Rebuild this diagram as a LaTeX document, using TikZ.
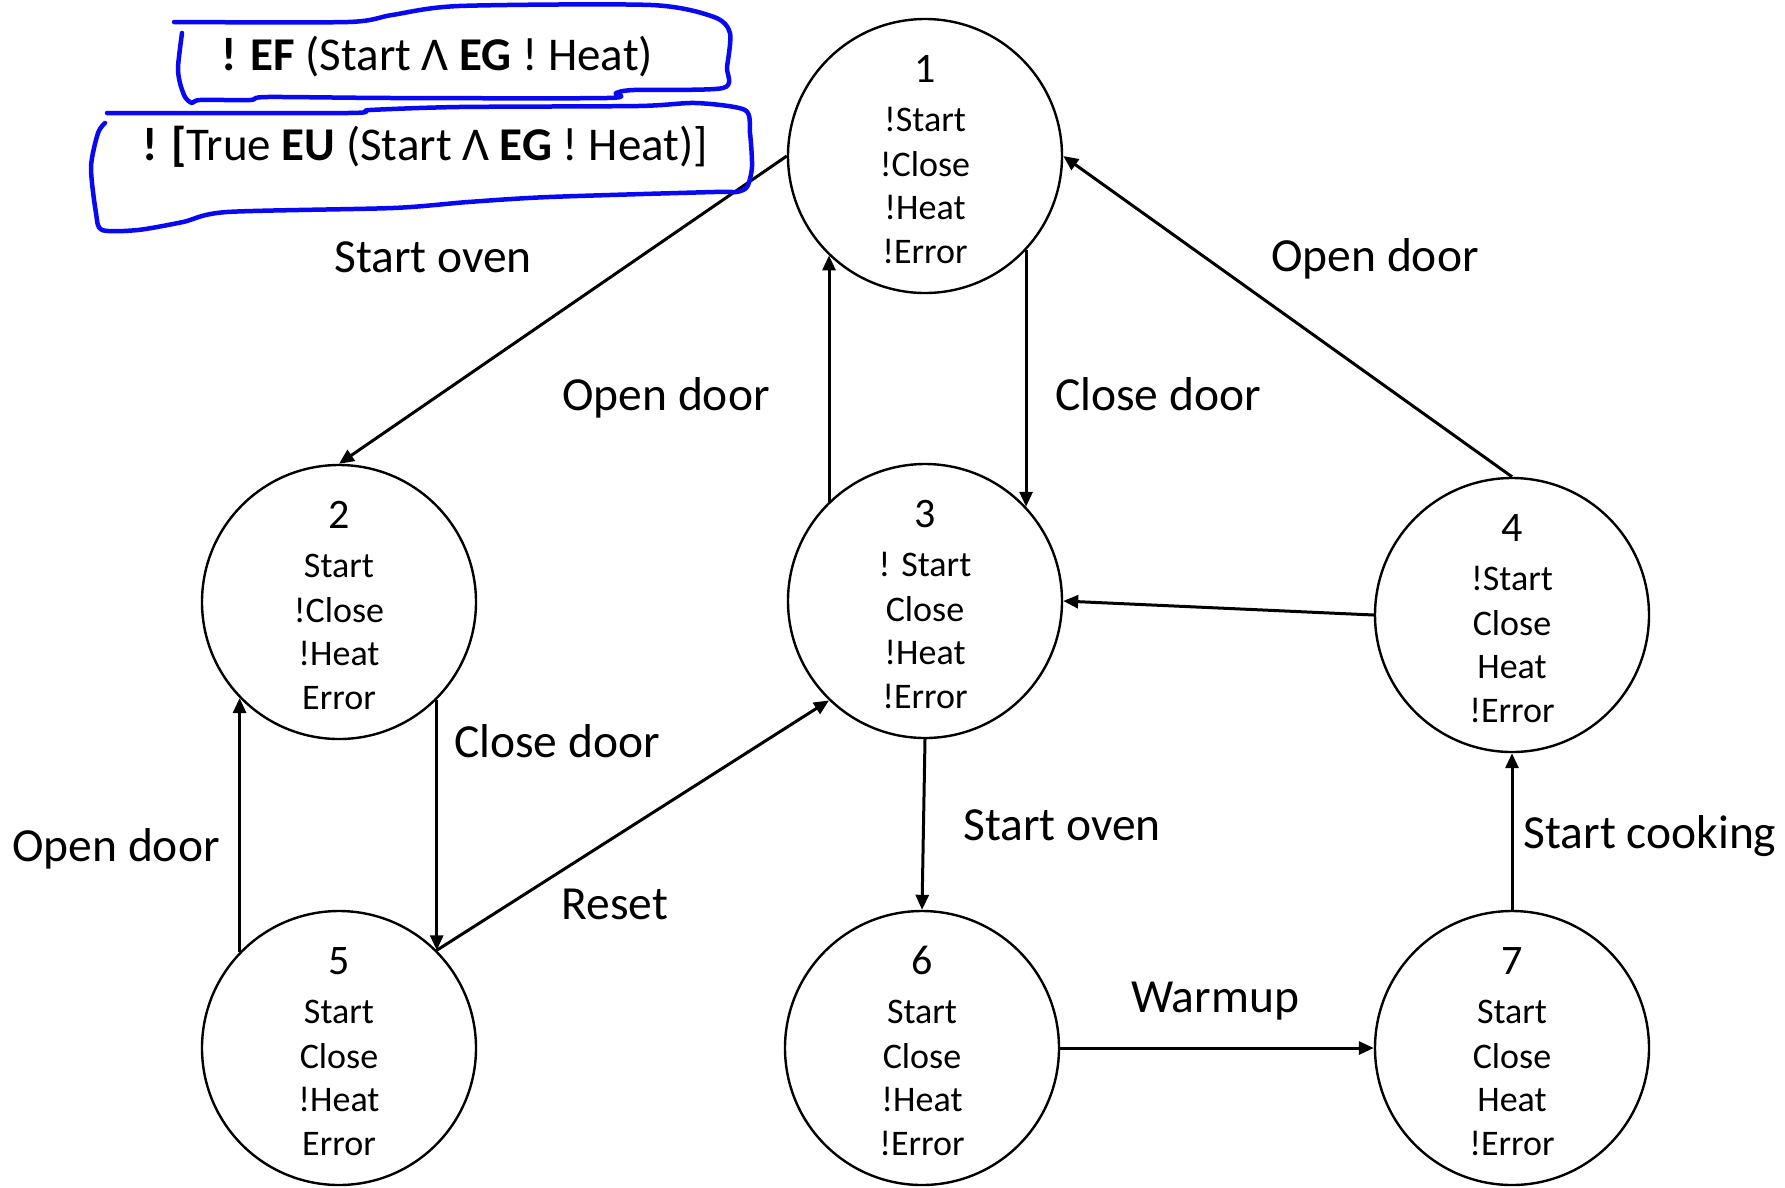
\documentclass[tikz,border=0pt]{standalone}
\usepackage{fontspec}
\setmainfont{Carlito}
\usetikzlibrary{arrows.meta}
\definecolor{penblue}{RGB}{8,8,245}

% state circle with its number and four labelled propositions
\newcommand\mkstate[8]{%
  \node[statecirc] (#1) at (#2,#3) {};
  \node[numtext]  at (#2,#3-74) {#4};
  \node[proptext] at (#2,#3-25) {#5};
  \node[proptext] at (#2,#3+20) {#6};
  \node[proptext] at (#2,#3+63) {#7};
  \node[proptext] at (#2,#3+107) {#8};
}

\begin{document}
\begin{tikzpicture}[x=1pt,y=-1pt,
  statecirc/.style={circle,draw,line width=2.4pt,minimum size=274pt,inner sep=0pt},
  numtext/.style={anchor=base,inner sep=0pt,font=\fontsize{42}{50}\selectfont},
  proptext/.style={anchor=base,inner sep=0pt,font=\fontsize{36}{42}\selectfont},
  edgelabel/.style={anchor=base,inner sep=0pt,font=\fontsize{47.5}{56}\selectfont},
  trans/.style={line width=3pt,-{Triangle[length=15pt,width=13pt]}},
  formula/.style={anchor=base,inner sep=0pt,font=\fontsize{47}{56}\selectfont},
  pen/.style={draw=penblue,line width=4.5pt,line cap=round,line join=round}
]
\fill[white] (0,0) rectangle (1785,1187);
\useasboundingbox (0,0) rectangle (1785,1187);

% states
\mkstate{n1}{925}{156}{1}{!Start}{!Close}{!Heat}{!Error}
\mkstate{n2}{339}{602}{2}{Start}{!Close}{!Heat}{Error}
\mkstate{n3}{925}{601}{3}{! Start}{Close}{!Heat}{!Error}
\mkstate{n4}{1512}{615}{4}{!Start}{Close}{Heat}{!Error}
\mkstate{n5}{339}{1048}{5}{Start}{Close}{!Heat}{Error}
\mkstate{n6}{922}{1048}{6}{Start}{Close}{!Heat}{!Error}
\mkstate{n7}{1512}{1048}{7}{Start}{Close}{Heat}{!Error}

% transitions
\draw[trans] (n1.west) -- (n2.north);
\draw[trans] (n1.-43) -- (n3.43);
\draw[trans] (n3.134) -- (n1.226);
\draw[trans] (n4.north) -- (n1.east);
\draw[trans] (n4.west) -- (n3.east);
\draw[trans] (n2.-45) -- (n5.45);
\draw[trans] (n5.136) -- (n2.224);
\draw[trans] (n5.45) -- (n3.226);
\draw[trans] (n3.south) -- (n6.north);
\draw[trans] (n6.east) -- (n7.west);
\draw[trans] (n7.north) -- (n4.south);

% transition labels
\node[edgelabel] (l12) at (433,272) {Start oven};
\node[edgelabel] (l31) at (666,410) {Open door};
\node[edgelabel] (l13) at (1158,410) {Close door};
\node[edgelabel] (l41) at (1375,271) {Open door};
\node[edgelabel] (l25) at (557,757) {Close door};
\node[edgelabel] (l52) at (116,861) {Open door};
\node[edgelabel] (l53) at (615,919) {Reset};
\node[edgelabel] (l36) at (1062,840) {Start oven};
\node[edgelabel] (l67) at (1215,1012) {Warmup};
\node[edgelabel] (l74) at (1650,848) {Start cooking};

% CTL formulas
\node[formula] (f1) at (437,70) {\textbf{! EF} (Start Λ \textbf{EG} ! Heat)};
\node[formula] (f2) at (425,160) {\textbf{! [}True \textbf{EU} (Start Λ \textbf{EG} ! Heat)]};

% hand-drawn outlines
\draw[pen] plot[smooth,tension=0.45] coordinates {
  (182,33) (178,67) (180,83) (185,97) (192,103) (200,100) (250,100) (267,97)
  (392,98) (607,98) (616,93) (634,90) (723,88) (727,67) (730,33) (714,17)
  (651,5) (459,6) (392,15) (348,22) (174,22)};
\draw[pen] plot[smooth,tension=0.45] coordinates {
  (105,123) (98,133) (91,167) (96,213) (102,230) (138,230) (183,222) (227,212)
  (393,208) (468,202) (549,197) (714,192) (736,192) (747,187) (752,167)
  (750,133) (745,110) (696,103) (638,106) (459,107) (370,110) (348,113) (107,113)};
\end{tikzpicture}
\end{document}
